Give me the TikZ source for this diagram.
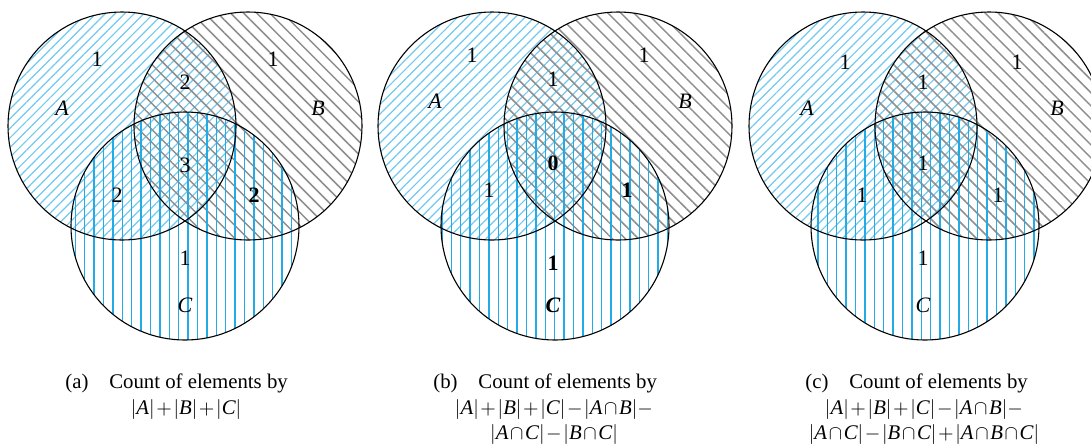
\documentclass[tikz,border=0pt]{standalone}
\usepackage{fontspec}
\setmainfont{Liberation Serif}
\usepackage{tikz}
\usetikzlibrary{
  patterns.meta,
  backgrounds
}
\definecolor{HatchA}{HTML}{72C9F0}
\definecolor{HatchB}{HTML}{8E8E8E}
\definecolor{HatchC}{HTML}{23ABE6}
\newcommand{\setname}[1]{\mathit{#1}}
\newcommand{\tightmath}{\medmuskip=1.5mu\relax}
\tikzset{
  setcircle/.style={
    circle,
    draw=black,
    line width=0.55pt,
    inner sep=0pt,
    minimum size=114pt
  },
  hatchA/.style={
    pattern={Lines[angle=45,distance=3.4pt,line width=0.6pt]},
    pattern color=HatchA
  },
  hatchB/.style={
    pattern={Lines[angle=-45,distance=4.6pt,line width=0.75pt]},
    pattern color=HatchB
  },
  hatchC/.style={
    pattern={Lines[angle=90,distance=4.7pt,line width=0.7pt]},
    pattern color=HatchC
  },
  count/.style={
    inner sep=1pt,
    font=\fontsize{11}{12}\selectfont
  },
  setlabel/.style={
    count,
    font=\fontsize{11}{12}\selectfont\itshape
  },
  caption/.style={
    inner sep=0pt,
    font=\fontsize{10.4}{12}\selectfont\tightmath
  }
}

\begin{document}
\begin{tikzpicture}[x=0.5pt,y=-0.5pt]

  \useasboundingbox (0,0) rectangle (1091,446);
  \clip (0,0) rectangle (1091,446);

  % circles
  \node[setcircle] (A1) at (122,126) {};
  \node[setcircle] (B1) at (248,126) {};
  \node[setcircle] (C1) at (185,226) {};

  \node[setcircle] (A2) at (492,126) {};
  \node[setcircle] (B2) at (618,126) {};
  \node[setcircle] (C2) at (555,226) {};

  \node[setcircle] (A3) at (863,126) {};
  \node[setcircle] (B3) at (989,126) {};
  \node[setcircle] (C3) at (925,226) {};

  \begin{scope}[on background layer]
    \path[hatchA] (A1.center) circle[radius=57pt];
    \path[hatchB] (B1.center) circle[radius=57pt];
    \path[hatchC] (C1.center) circle[radius=57pt];
    \path[hatchA] (A2.center) circle[radius=57pt];
    \path[hatchB] (B2.center) circle[radius=57pt];
    \path[hatchC] (C2.center) circle[radius=57pt];
    \path[hatchA] (A3.center) circle[radius=57pt];
    \path[hatchB] (B3.center) circle[radius=57pt];
    \path[hatchC] (C3.center) circle[radius=57pt];
  \end{scope}

  % (a)
  \node[count] (a-onlyA) at (97,59) {1};
  \node[setlabel] (a-nameA) at (62,108) {A};
  \node[count] (a-AB) at (185,82) {2};
  \node[count] (a-onlyB) at (273,59) {1};
  \node[setlabel] (a-nameB) at (318,108) {B};
  \node[count] (a-ABC) at (185,165) {3};
  \node[count] (a-AC) at (117,195) {2};
  \node[count] (a-BC) at (254,195) {\textbf{2}};
  \node[count] (a-onlyC) at (185,258) {1};
  \node[setlabel] (a-nameC) at (185,305) {C};

  % (b)
  \node[count] (b-onlyA) at (472,55) {1};
  \node[setlabel] (b-nameA) at (435,101) {A};
  \node[count] (b-AB) at (553,79) {1};
  \node[count] (b-onlyB) at (644,55) {1};
  \node[setlabel] (b-nameB) at (685,101) {B};
  \node[count] (b-ABC) at (553,163) {\textbf{0}};
  \node[count] (b-AC) at (489,190) {1};
  \node[count] (b-BC) at (627,190) {\textbf{1}};
  \node[count] (b-onlyC) at (553,263) {\textbf{1}};
  \node[setlabel] (b-nameC) at (553,305) {\textbf{C}};

  % (c)
  \node[count] (c-onlyA) at (845,62) {1};
  \node[setlabel] (c-nameA) at (807,108) {A};
  \node[count] (c-AB) at (923,82) {1};
  \node[count] (c-onlyB) at (1017,62) {1};
  \node[setlabel] (c-nameB) at (1057,108) {B};
  \node[count] (c-ABC) at (923,163) {1};
  \node[count] (c-AC) at (862,195) {1};
  \node[count] (c-BC) at (998,195) {1};
  \node[count] (c-onlyC) at (923,258) {1};
  \node[setlabel] (c-nameC) at (923,305) {C};

  % captions
  \node[caption, anchor=west] (capa) at (65,383) {(a)\quad Count of elements by};
  \node[caption] (capa-2) at (186,409) {$|\setname{A}|+|\setname{B}|+|\setname{C}|$};

  \node[caption, anchor=west] (capb) at (433,383) {(b)\quad Count of elements by};
  \node[caption] (capb-2) at (554,409) {$|\setname{A}|+|\setname{B}|+|\setname{C}|-|\setname{A}\cap \setname{B}|-$};
  \node[caption] (capb-3) at (554,434) {$|\setname{A}\cap \setname{C}|-|\setname{B}\cap \setname{C}|$};

  \node[caption, anchor=west] (capc) at (805,383) {(c)\quad Count of elements by};
  \node[caption] (capc-2) at (924,409) {$|\setname{A}|+|\setname{B}|+|\setname{C}|-|\setname{A}\cap \setname{B}|-$};
  \node[caption] (capc-3) at (924,434) {$|\setname{A}\cap \setname{C}|-|\setname{B}\cap \setname{C}|+|\setname{A}\cap \setname{B}\cap \setname{C}|$};

\end{tikzpicture}
\end{document}
